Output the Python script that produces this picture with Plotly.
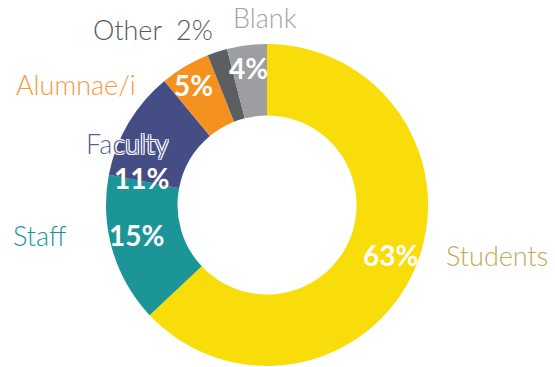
import plotly.graph_objects as go

# Survey respondents by group
groups = ["Students", "Staff", "Faculty", "Alumnae/i", "Other", "Blank"]
shares = [63, 15, 11, 5, 2, 4]
slice_colors = ["#F9DD0B", "#1B9597", "#454D85", "#F5921F", "#5D5E62", "#9D9EA2"]
name_colors = ["#BDAA58", "#1B9597", "#5A5F95", "#F49A3C", "#58595C", "#A2A3A6"]

W, H = 555, 367
FONT = "Lato"

fig = go.Figure(
    go.Pie(
        labels=groups,
        values=shares,
        marker=dict(colors=slice_colors, line=dict(width=0)),
        hole=0.556,
        sort=False,
        direction="clockwise",
        rotation=0,
        textinfo="none",
        hoverinfo="label+value",
        showlegend=False,
        domain=dict(x=[106 / W, 428 / W], y=[1 / H, 323 / H]),
    )
)

def px(x, y):
    return x / W, 1 - y / H

# Category names around the ring: (x, y) of the left edge / middle, in pixels
name_pos = {
    "Students": (444, 255),
    "Staff": (11, 235),
    "Faculty": (84, 143),
    "Alumnae/i": (14, 85),
    "Other": (91, 30),
    "Blank": (231, 17),
}
# Percentage labels inside the ring (centre positions in pixels)
pct_pos = {
    "Students": (390, 255),
    "Staff": (136, 235),
    "Faculty": (141, 178),
    "Alumnae/i": (193, 85),
    "Blank": (248, 68),
}

annotations = []
for g, v, c in zip(groups, shares, name_colors):
    x, y = name_pos[g]
    label = f"{g}  {v}%" if g == "Other" else g
    fx, fy = px(x, y)
    font = dict(family=FONT, size=27, color=c, weight=300)
    if g == "Faculty":
        font["shadow"] = "1px 1px 0 #fff, -1px -1px 0 #fff, 1px -1px 0 #fff, -1px 1px 0 #fff"
    annotations.append(dict(
        x=fx, y=fy, xref="paper", yref="paper", text=label, showarrow=False,
        xanchor="left", yanchor="middle", font=font,
    ))
    if g in pct_pos:
        x2, y2 = pct_pos[g]
        fx2, fy2 = px(x2, y2)
        annotations.append(dict(
            x=fx2, y=fy2, xref="paper", yref="paper", text=f"{v}%", showarrow=False,
            xanchor="center", yanchor="middle",
            font=dict(family=FONT, size=28, color="#FFFFFF", weight=700),
        ))

fig.update_layout(
    width=W, height=H,
    margin=dict(l=0, r=0, t=0, b=0),
    paper_bgcolor="white",
    plot_bgcolor="white",
    annotations=annotations,
)

fig.write_html("out.html")
